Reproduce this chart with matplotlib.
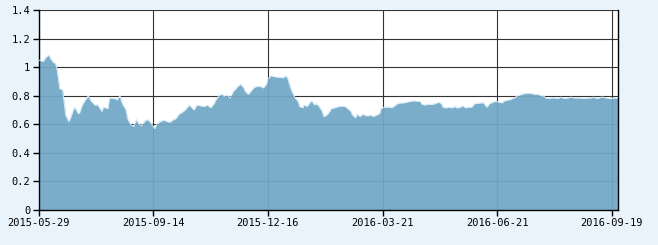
import matplotlib
matplotlib.use("Agg")
import matplotlib.pyplot as plt
import numpy as np

# trading-day index of each reading and the value
days = [0, 3, 5, 7, 8, 10, 11, 12, 13, 14, 16, 17, 18, 20, 21, 23, 24, 26, 27, 29,
        31, 33, 35, 36, 38, 39, 42, 43, 46, 47, 49, 51, 52, 54, 55, 56, 58, 59, 61, 63,
        65, 66, 68, 69, 71, 73, 75, 77, 78, 80, 83, 85, 87, 89, 91, 93, 96, 98, 100, 103,
        105, 107, 110, 112, 114, 116, 118, 120, 122, 123, 125, 127, 129, 130, 132, 134, 136, 137, 139, 141,
        143, 145, 147, 149, 151, 152, 154, 156, 158, 160, 162, 164, 165, 167, 168, 170, 172, 173, 175, 176,
        178, 179, 181, 183, 184, 186, 188, 189, 191, 193, 194, 196, 199, 201, 203, 205, 207, 208, 210, 211,
        213, 215, 217, 219, 220, 222, 224, 226, 227, 229, 231, 233, 234, 236, 238, 240, 242, 244, 246, 249,
        251, 253, 254, 256, 258, 261, 263, 265, 267, 268, 270, 272, 274, 276, 277, 279, 281, 283, 285, 287,
        289, 290, 293, 295, 297, 299, 301, 303, 305, 307, 309, 311, 313, 316, 318, 320, 322, 324, 327, 329,
        331, 333, 335, 336, 338, 340, 342, 344, 346, 347, 349, 351, 353, 355, 357, 359, 362, 364, 366, 368,
        370, 373, 374, 376, 378, 380, 381, 383, 384]
values = [1.05, 1.04, 1.07, 1.085, 1.06, 1.03, 1.03, 1.0, 0.93, 0.85, 0.84, 0.75, 0.665, 0.62, 0.64, 0.70, 0.72, 0.68, 0.675, 0.735,
          0.77, 0.80, 0.76, 0.75, 0.73, 0.74, 0.69, 0.72, 0.71, 0.785, 0.78, 0.78, 0.77, 0.80, 0.76, 0.735, 0.70, 0.64, 0.60, 0.585,
          0.635, 0.61, 0.59, 0.60, 0.63, 0.63, 0.60, 0.57, 0.595, 0.615, 0.63, 0.62, 0.615, 0.63, 0.64, 0.67, 0.69, 0.71, 0.735, 0.70,
          0.735, 0.73, 0.725, 0.735, 0.715, 0.74, 0.78, 0.805, 0.81, 0.795, 0.805, 0.785, 0.83, 0.84, 0.865, 0.88, 0.855, 0.83, 0.81, 0.835,
          0.86, 0.865, 0.865, 0.855, 0.88, 0.917, 0.94, 0.935, 0.93, 0.93, 0.925, 0.94, 0.925, 0.855, 0.83, 0.785, 0.76, 0.725, 0.715, 0.735,
          0.725, 0.74, 0.765, 0.735, 0.745, 0.725, 0.69, 0.655, 0.665, 0.69, 0.71, 0.715, 0.725, 0.725, 0.725, 0.71, 0.69, 0.665, 0.645, 0.67,
          0.655, 0.67, 0.66, 0.66, 0.665, 0.655, 0.665, 0.675, 0.71, 0.72, 0.72, 0.72, 0.715, 0.73, 0.745, 0.75, 0.75, 0.755, 0.76, 0.765,
          0.76, 0.76, 0.74, 0.735, 0.74, 0.74, 0.745, 0.755, 0.745, 0.72, 0.715, 0.72, 0.715, 0.725, 0.715, 0.717, 0.73, 0.715, 0.72, 0.72,
          0.745, 0.745, 0.75, 0.75, 0.72, 0.745, 0.755, 0.76, 0.755, 0.75, 0.765, 0.77, 0.775, 0.79, 0.80, 0.81, 0.815, 0.817, 0.815, 0.81,
          0.81, 0.80, 0.795, 0.785, 0.78, 0.785, 0.785, 0.78, 0.79, 0.785, 0.78, 0.785, 0.79, 0.785, 0.785, 0.785, 0.78, 0.785, 0.785, 0.79,
          0.78, 0.79, 0.79, 0.785, 0.78, 0.78, 0.785, 0.785, 0.785]

tick_days = [0, 76, 152, 228, 304, 380]
tick_labels = ["2015-05-29", "2015-09-14", "2015-12-16", "2016-03-21", "2016-06-21", "2016-09-19"]
y_ticks = [0, 0.2, 0.4, 0.6, 0.8, 1.0, 1.2, 1.4]
y_labels = ["0", "0.2", "0.4", "0.6", "0.8", "1", "1.2", "1.4"]

bg = "#e8f3fb"
fill_color = "#72a8c6"

fig = plt.figure(figsize=(6.58, 2.45), dpi=100, facecolor=bg)
ax = fig.add_axes([38.5 / 658, 35 / 245, 579.5 / 658, 200 / 245])
ax.set_facecolor("white")

ax.fill_between(days, values, 0, color=fill_color, alpha=0.94, lw=0, zorder=2)
ax.plot(days, values, color="#d6eaf7", lw=0.7, zorder=3)

ax.set_xlim(0, 384)
ax.set_ylim(0, 1.4)
ax.set_xticks(tick_days)
ax.set_xticklabels(tick_labels)
ax.set_yticks(y_ticks)
ax.set_yticklabels(y_labels)

ax.set_axisbelow(True)
ax.grid(True, color="#333333", lw=0.8)

for side in ["left", "bottom", "right"]:
    ax.spines[side].set_color("black")
    ax.spines[side].set_linewidth(1.0)
ax.spines["top"].set_visible(False)

ax.tick_params(axis="both", length=4, width=1, color="black", labelsize=7.5, pad=2)
for lab in ax.get_xticklabels() + ax.get_yticklabels():
    lab.set_family("DejaVu Sans Mono")

fig.savefig("out.png", dpi=100, facecolor=bg)
